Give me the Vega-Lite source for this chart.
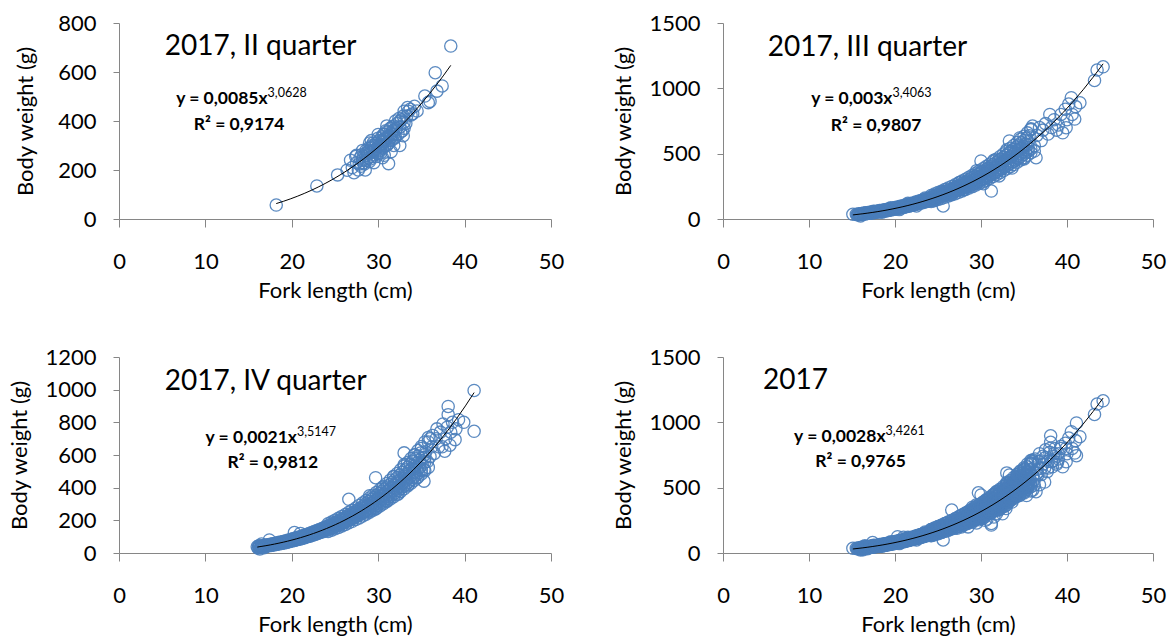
{
"$schema": "https://vega.github.io/schema/vega-lite/v6.json",
"background": "white",
"padding": {"left": 8, "top": 12, "right": 5, "bottom": 1},
"bounds": "flush",
"columns": 2,
"spacing": {"row": 138, "column": 172},
"config": {
  "view": {"stroke": null},
  "font": "Lato",
  "axis": {"grid": false, "domainColor": "#868686", "domainWidth": 1, "tickColor": "#868686", "tickWidth": 1, "labelColor": "#000000", "titleColor": "#000000", "labelFont": "Lato", "titleFont": "Lato", "labelFontSize": 22, "titleFontSize": 22, "titleFontWeight": "normal", "labelOverlap": false},
  "axisX": {"tickSize": 8, "labelPadding": 24, "titlePadding": 8, "labelFlush": false, "tickCount": 10},
  "axisY": {"tickSize": 6, "labelPadding": 17, "titlePadding": 15, "format": "d", "labelOverlap": false, "tickCount": 10}
},
"datasets": {
"notes": [
{"panel": "II", "title": "2017, II quarter", "eq": "y = 0,0085x", "exp": "3,0628", "r2": "R² = 0,9174"},
{"panel": "III", "title": "2017, III quarter", "eq": "y = 0,003x", "exp": "3,4063", "r2": "R² = 0,9807"},
{"panel": "IV", "title": "2017, IV quarter", "eq": "y = 0,0021x", "exp": "3,5147", "r2": "R² = 0,9812"},
{"panel": "all", "title": "2017", "eq": "y = 0,0028x", "exp": "3,4261", "r2": "R² = 0,9765"}
],
"fish": [
{"quarter":"II","length":18.2,"weight":57},{"quarter":"II","length":22.9,"weight":135},{"quarter":"II","length":25.3,"weight":180},{"quarter":"II","length":26.4,"weight":199},{"quarter":"II","length":26.8,"weight":240},{"quarter":"II","length":27.0,"weight":210},{"quarter":"II","length":27.2,"weight":189},{"quarter":"II","length":27.5,"weight":230},{"quarter":"II","length":27.7,"weight":200},{"quarter":"II","length":27.9,"weight":250},{"quarter":"II","length":28.0,"weight":215},{"quarter":"II","length":28.2,"weight":240},{"quarter":"II","length":28.4,"weight":225},{"quarter":"II","length":28.5,"weight":265},{"quarter":"II","length":28.6,"weight":240},{"quarter":"II","length":28.8,"weight":275},{"quarter":"II","length":28.9,"weight":250},{"quarter":"II","length":29.0,"weight":235},{"quarter":"II","length":29.1,"weight":270},{"quarter":"II","length":29.2,"weight":290},{"quarter":"II","length":29.3,"weight":255},{"quarter":"II","length":29.4,"weight":280},{"quarter":"II","length":29.5,"weight":300},{"quarter":"II","length":29.6,"weight":262},{"quarter":"II","length":29.7,"weight":285},{"quarter":"II","length":29.8,"weight":310},{"quarter":"II","length":29.9,"weight":270},{"quarter":"II","length":30.0,"weight":295},{"quarter":"II","length":30.1,"weight":320},{"quarter":"II","length":30.2,"weight":280},{"quarter":"II","length":30.3,"weight":305},{"quarter":"II","length":30.4,"weight":335},{"quarter":"II","length":30.5,"weight":290},{"quarter":"II","length":30.6,"weight":315},{"quarter":"II","length":30.7,"weight":345},{"quarter":"II","length":30.8,"weight":300},{"quarter":"II","length":30.9,"weight":325},{"quarter":"II","length":31.0,"weight":355},{"quarter":"II","length":31.1,"weight":305},{"quarter":"II","length":31.2,"weight":226},{"quarter":"II","length":31.3,"weight":340},{"quarter":"II","length":31.4,"weight":370},{"quarter":"II","length":31.5,"weight":320},{"quarter":"II","length":31.6,"weight":345},{"quarter":"II","length":31.8,"weight":380},{"quarter":"II","length":31.9,"weight":330},{"quarter":"II","length":32.0,"weight":360},{"quarter":"II","length":32.2,"weight":390},{"quarter":"II","length":32.3,"weight":345},{"quarter":"II","length":32.5,"weight":375},{"quarter":"II","length":32.7,"weight":405},{"quarter":"II","length":32.8,"weight":360},{"quarter":"II","length":33.0,"weight":395},{"quarter":"II","length":33.3,"weight":420},{"quarter":"II","length":33.5,"weight":440},{"quarter":"II","length":33.7,"weight":448},{"quarter":"II","length":34.0,"weight":430},{"quarter":"II","length":34.5,"weight":441},{"quarter":"II","length":35.4,"weight":502},{"quarter":"II","length":35.8,"weight":475},{"quarter":"II","length":36.0,"weight":480},{"quarter":"II","length":36.6,"weight":597},{"quarter":"II","length":36.8,"weight":522},{"quarter":"II","length":37.4,"weight":543},{"quarter":"II","length":38.4,"weight":706},{"quarter":"II","length":28.3,"weight":255},{"quarter":"II","length":29.0,"weight":280},{"quarter":"II","length":29.5,"weight":275},{"quarter":"II","length":30.0,"weight":265},{"quarter":"II","length":30.5,"weight":320},{"quarter":"II","length":31.0,"weight":300},{"quarter":"II","length":31.5,"weight":350},{"quarter":"II","length":32.0,"weight":335},{"quarter":"II","length":32.5,"weight":400},{"quarter":"II","length":33.0,"weight":370},{"quarter":"II","length":28.7,"weight":260},{"quarter":"II","length":29.3,"weight":300},{"quarter":"II","length":30.2,"weight":300},{"quarter":"II","length":30.8,"weight":330},{"quarter":"II","length":31.7,"weight":360},
{"quarter":"II","length":28.1,"weight":262},{"quarter":"II","length":28.3,"weight":230},{"quarter":"II","length":28.6,"weight":280},{"quarter":"II","length":28.9,"weight":290},{"quarter":"II","length":29.1,"weight":245},{"quarter":"II","length":29.4,"weight":310},{"quarter":"II","length":29.6,"weight":295},{"quarter":"II","length":29.8,"weight":255},{"quarter":"II","length":30.0,"weight":330},{"quarter":"II","length":30.1,"weight":285},{"quarter":"II","length":30.3,"weight":270},{"quarter":"II","length":30.4,"weight":300},{"quarter":"II","length":30.6,"weight":345},{"quarter":"II","length":30.7,"weight":295},{"quarter":"II","length":30.9,"weight":360},{"quarter":"II","length":31.1,"weight":335},{"quarter":"II","length":31.2,"weight":310},{"quarter":"II","length":31.4,"weight":330},{"quarter":"II","length":31.6,"weight":375},{"quarter":"II","length":31.8,"weight":345},{"quarter":"II","length":32.1,"weight":370},{"quarter":"II","length":32.4,"weight":410},{"quarter":"II","length":32.6,"weight":355},{"quarter":"II","length":32.9,"weight":420},{"quarter":"II","length":33.2,"weight":390},{"quarter":"II","length":33.4,"weight":455},{"quarter":"II","length":33.8,"weight":425},{"quarter":"II","length":34.2,"weight":460},{"quarter":"II","length":27.4,"weight":255},{"quarter":"II","length":27.8,"weight":225},
{"quarter":"II","length":28.5,"weight":200},{"quarter":"II","length":29.0,"weight":310},{"quarter":"II","length":29.5,"weight":230},{"quarter":"II","length":30.0,"weight":345},{"quarter":"II","length":30.5,"weight":250},{"quarter":"II","length":31.0,"weight":380},{"quarter":"II","length":31.5,"weight":275},{"quarter":"II","length":32.0,"weight":400},{"quarter":"II","length":32.5,"weight":300},{"quarter":"II","length":33.0,"weight":440},{"quarter":"II","length":29.2,"weight":320},{"quarter":"II","length":30.7,"weight":260},{"quarter":"II","length":31.8,"weight":300},{"quarter":"II","length":32.9,"weight":340},{"quarter":"II","length":27.5,"weight":260},{"quarter":"II","length":28.2,"weight":280},
{"quarter":"III","length":15.5,"weight":37},{"quarter":"III","length":15.8,"weight":39},{"quarter":"III","length":16.1,"weight":42},{"quarter":"III","length":16.4,"weight":45},{"quarter":"III","length":16.7,"weight":48},{"quarter":"III","length":17.0,"weight":51},{"quarter":"III","length":17.3,"weight":54},{"quarter":"III","length":17.6,"weight":57},{"quarter":"III","length":17.9,"weight":60},{"quarter":"III","length":18.2,"weight":64},{"quarter":"III","length":18.5,"weight":67},{"quarter":"III","length":18.8,"weight":71},{"quarter":"III","length":19.1,"weight":75},{"quarter":"III","length":19.4,"weight":79},{"quarter":"III","length":19.7,"weight":83},{"quarter":"III","length":20.0,"weight":87},{"quarter":"III","length":20.3,"weight":92},{"quarter":"III","length":20.6,"weight":97},{"quarter":"III","length":20.9,"weight":102},{"quarter":"III","length":21.2,"weight":107},{"quarter":"III","length":21.5,"weight":112},{"quarter":"III","length":21.8,"weight":118},{"quarter":"III","length":22.1,"weight":123},{"quarter":"III","length":22.4,"weight":129},{"quarter":"III","length":22.7,"weight":135},{"quarter":"III","length":23.0,"weight":141},{"quarter":"III","length":23.3,"weight":148},{"quarter":"III","length":23.6,"weight":154},{"quarter":"III","length":23.9,"weight":161},{"quarter":"III","length":24.2,"weight":168},{"quarter":"III","length":24.5,"weight":175},{"quarter":"III","length":24.8,"weight":183},{"quarter":"III","length":25.1,"weight":191},{"quarter":"III","length":25.4,"weight":199},{"quarter":"III","length":25.7,"weight":207},{"quarter":"III","length":26.0,"weight":215},{"quarter":"III","length":26.3,"weight":224},{"quarter":"III","length":26.6,"weight":232},{"quarter":"III","length":26.9,"weight":241},{"quarter":"III","length":27.2,"weight":251},{"quarter":"III","length":27.5,"weight":260},{"quarter":"III","length":27.8,"weight":270},{"quarter":"III","length":28.1,"weight":280},{"quarter":"III","length":28.4,"weight":290},
{"quarter":"III","length":15.6,"weight":32},{"quarter":"III","length":15.9,"weight":35},{"quarter":"III","length":16.2,"weight":37},{"quarter":"III","length":16.5,"weight":39},{"quarter":"III","length":16.8,"weight":42},{"quarter":"III","length":17.1,"weight":45},{"quarter":"III","length":17.4,"weight":47},{"quarter":"III","length":17.7,"weight":50},{"quarter":"III","length":18.0,"weight":53},{"quarter":"III","length":18.3,"weight":56},{"quarter":"III","length":18.6,"weight":59},{"quarter":"III","length":18.9,"weight":62},{"quarter":"III","length":19.2,"weight":65},{"quarter":"III","length":19.5,"weight":69},{"quarter":"III","length":19.8,"weight":73},{"quarter":"III","length":20.1,"weight":77},{"quarter":"III","length":20.4,"weight":81},{"quarter":"III","length":20.7,"weight":85},{"quarter":"III","length":21.0,"weight":89},{"quarter":"III","length":21.3,"weight":94},{"quarter":"III","length":21.6,"weight":98},{"quarter":"III","length":21.9,"weight":103},{"quarter":"III","length":22.2,"weight":107},{"quarter":"III","length":22.5,"weight":113},{"quarter":"III","length":22.8,"weight":118},{"quarter":"III","length":23.1,"weight":123},{"quarter":"III","length":23.4,"weight":129},{"quarter":"III","length":23.7,"weight":134},{"quarter":"III","length":24.0,"weight":140},{"quarter":"III","length":24.3,"weight":147},{"quarter":"III","length":24.6,"weight":153},{"quarter":"III","length":24.9,"weight":160},{"quarter":"III","length":25.2,"weight":166},{"quarter":"III","length":25.5,"weight":173},{"quarter":"III","length":25.8,"weight":180},{"quarter":"III","length":26.1,"weight":187},{"quarter":"III","length":26.4,"weight":194},{"quarter":"III","length":26.7,"weight":202},{"quarter":"III","length":27.0,"weight":210},{"quarter":"III","length":27.3,"weight":218},{"quarter":"III","length":27.6,"weight":226},{"quarter":"III","length":27.9,"weight":234},{"quarter":"III","length":28.2,"weight":243},
{"quarter":"III","length":15.8,"weight":36},{"quarter":"III","length":16.4,"weight":42},{"quarter":"III","length":17.0,"weight":46},{"quarter":"III","length":17.6,"weight":53},{"quarter":"III","length":18.2,"weight":60},{"quarter":"III","length":18.8,"weight":65},{"quarter":"III","length":19.4,"weight":74},{"quarter":"III","length":20.0,"weight":80},{"quarter":"III","length":20.6,"weight":91},{"quarter":"III","length":21.2,"weight":98},{"quarter":"III","length":21.8,"weight":110},{"quarter":"III","length":22.4,"weight":118},{"quarter":"III","length":23.0,"weight":133},{"quarter":"III","length":23.6,"weight":141},{"quarter":"III","length":24.2,"weight":157},{"quarter":"III","length":24.8,"weight":167},{"quarter":"III","length":25.4,"weight":186},{"quarter":"III","length":26.0,"weight":197},{"quarter":"III","length":26.6,"weight":218},{"quarter":"III","length":27.2,"weight":229},{"quarter":"III","length":27.8,"weight":253},{"quarter":"III","length":28.4,"weight":266},
{"quarter":"III","length":17.5,"weight":60},{"quarter":"III","length":18.5,"weight":52},{"quarter":"III","length":19.5,"weight":85},{"quarter":"III","length":20.5,"weight":72},{"quarter":"III","length":21.5,"weight":120},{"quarter":"III","length":22.5,"weight":100},{"quarter":"III","length":23.5,"weight":160},{"quarter":"III","length":24.5,"weight":140},{"quarter":"III","length":25.5,"weight":210},{"quarter":"III","length":26.5,"weight":185},{"quarter":"III","length":27.5,"weight":280},{"quarter":"III","length":28.0,"weight":225},{"quarter":"III","length":25.6,"weight":100},{"quarter":"III","length":15.1,"weight":36},{"quarter":"III","length":16.0,"weight":24},
{"quarter":"III","length":28.7,"weight":306},{"quarter":"III","length":29.0,"weight":317},{"quarter":"III","length":29.3,"weight":328},{"quarter":"III","length":29.6,"weight":340},{"quarter":"III","length":29.9,"weight":352},{"quarter":"III","length":30.2,"weight":364},{"quarter":"III","length":30.5,"weight":376},{"quarter":"III","length":30.8,"weight":388},{"quarter":"III","length":31.1,"weight":402},{"quarter":"III","length":31.4,"weight":416},{"quarter":"III","length":31.7,"weight":429},{"quarter":"III","length":32.0,"weight":443},{"quarter":"III","length":32.3,"weight":458},{"quarter":"III","length":32.6,"weight":472},{"quarter":"III","length":32.9,"weight":487},{"quarter":"III","length":33.2,"weight":503},{"quarter":"III","length":33.5,"weight":518},{"quarter":"III","length":33.8,"weight":534},{"quarter":"III","length":34.1,"weight":550},{"quarter":"III","length":34.4,"weight":567},{"quarter":"III","length":34.7,"weight":584},{"quarter":"III","length":35.0,"weight":601},{"quarter":"III","length":35.3,"weight":619},{"quarter":"III","length":35.6,"weight":637},
{"quarter":"III","length":28.6,"weight":250},{"quarter":"III","length":28.9,"weight":259},{"quarter":"III","length":29.2,"weight":268},{"quarter":"III","length":29.5,"weight":278},{"quarter":"III","length":29.8,"weight":288},{"quarter":"III","length":30.1,"weight":298},{"quarter":"III","length":30.4,"weight":308},{"quarter":"III","length":30.7,"weight":318},{"quarter":"III","length":31.0,"weight":329},{"quarter":"III","length":31.3,"weight":340},{"quarter":"III","length":31.6,"weight":351},{"quarter":"III","length":31.9,"weight":363},{"quarter":"III","length":32.2,"weight":375},{"quarter":"III","length":32.5,"weight":387},{"quarter":"III","length":32.8,"weight":399},{"quarter":"III","length":33.1,"weight":412},{"quarter":"III","length":33.4,"weight":425},{"quarter":"III","length":33.7,"weight":437},{"quarter":"III","length":34.0,"weight":450},{"quarter":"III","length":34.3,"weight":464},{"quarter":"III","length":34.6,"weight":478},{"quarter":"III","length":34.9,"weight":492},{"quarter":"III","length":35.2,"weight":507},{"quarter":"III","length":35.5,"weight":521},{"quarter":"III","length":35.8,"weight":536},
{"quarter":"III","length":28.8,"weight":281},{"quarter":"III","length":29.4,"weight":304},{"quarter":"III","length":30.0,"weight":325},{"quarter":"III","length":30.6,"weight":344},{"quarter":"III","length":31.2,"weight":372},{"quarter":"III","length":31.8,"weight":392},{"quarter":"III","length":32.4,"weight":424},{"quarter":"III","length":33.0,"weight":445},{"quarter":"III","length":33.6,"weight":478},{"quarter":"III","length":34.2,"weight":500},{"quarter":"III","length":34.8,"weight":540},{"quarter":"III","length":35.4,"weight":565},
{"quarter":"III","length":29.5,"weight":370},{"quarter":"III","length":30.3,"weight":270},{"quarter":"III","length":31.5,"weight":450},{"quarter":"III","length":32.1,"weight":330},{"quarter":"III","length":33.0,"weight":530},{"quarter":"III","length":33.6,"weight":390},{"quarter":"III","length":34.5,"weight":620},{"quarter":"III","length":35.0,"weight":460},{"quarter":"III","length":35.8,"weight":690},{"quarter":"III","length":36.2,"weight":520},
{"quarter":"III","length":30.0,"weight":444},{"quarter":"III","length":31.2,"weight":214},{"quarter":"III","length":33.3,"weight":597},{"quarter":"III","length":36.4,"weight":469},
{"quarter":"III","length":36.0,"weight":711},{"quarter":"III","length":36.2,"weight":560},{"quarter":"III","length":36.5,"weight":640},{"quarter":"III","length":36.8,"weight":700},{"quarter":"III","length":37.0,"weight":600},{"quarter":"III","length":37.2,"weight":680},{"quarter":"III","length":37.5,"weight":730},{"quarter":"III","length":37.8,"weight":650},{"quarter":"III","length":38.0,"weight":800},{"quarter":"III","length":38.2,"weight":700},{"quarter":"III","length":38.5,"weight":760},{"quarter":"III","length":38.8,"weight":680},{"quarter":"III","length":39.0,"weight":720},{"quarter":"III","length":39.3,"weight":800},{"quarter":"III","length":39.5,"weight":660},{"quarter":"III","length":39.8,"weight":840},{"quarter":"III","length":39.9,"weight":699},{"quarter":"III","length":40.0,"weight":760},{"quarter":"III","length":40.2,"weight":880},{"quarter":"III","length":40.5,"weight":928},{"quarter":"III","length":40.6,"weight":800},{"quarter":"III","length":40.9,"weight":765},{"quarter":"III","length":41.0,"weight":860},{"quarter":"III","length":41.5,"weight":890},{"quarter":"III","length":43.2,"weight":1060},{"quarter":"III","length":43.5,"weight":1140},{"quarter":"III","length":44.2,"weight":1165},
{"quarter":"III","length":15.7,"weight":37},{"quarter":"III","length":15.7,"weight":33},{"quarter":"III","length":16.0,"weight":39},{"quarter":"III","length":16.0,"weight":36},{"quarter":"III","length":16.3,"weight":42},{"quarter":"III","length":16.3,"weight":38},{"quarter":"III","length":16.6,"weight":45},{"quarter":"III","length":16.6,"weight":41},{"quarter":"III","length":16.9,"weight":47},{"quarter":"III","length":16.9,"weight":44},{"quarter":"III","length":17.2,"weight":50},{"quarter":"III","length":17.2,"weight":46},{"quarter":"III","length":17.5,"weight":53},{"quarter":"III","length":17.5,"weight":49},{"quarter":"III","length":17.8,"weight":57},{"quarter":"III","length":17.8,"weight":52},{"quarter":"III","length":18.1,"weight":60},{"quarter":"III","length":18.1,"weight":55},{"quarter":"III","length":18.4,"weight":63},{"quarter":"III","length":18.4,"weight":58},{"quarter":"III","length":18.7,"weight":67},{"quarter":"III","length":18.7,"weight":61},{"quarter":"III","length":19.0,"weight":70},{"quarter":"III","length":19.0,"weight":64},{"quarter":"III","length":19.3,"weight":74},{"quarter":"III","length":19.3,"weight":68},{"quarter":"III","length":19.6,"weight":78},{"quarter":"III","length":19.6,"weight":72},{"quarter":"III","length":19.9,"weight":82},{"quarter":"III","length":19.9,"weight":76},{"quarter":"III","length":20.2,"weight":86},{"quarter":"III","length":20.2,"weight":80},{"quarter":"III","length":20.5,"weight":91},{"quarter":"III","length":20.5,"weight":84},{"quarter":"III","length":20.8,"weight":96},{"quarter":"III","length":20.8,"weight":88},{"quarter":"III","length":21.1,"weight":100},{"quarter":"III","length":21.1,"weight":93},{"quarter":"III","length":21.4,"weight":105},{"quarter":"III","length":21.4,"weight":97},{"quarter":"III","length":21.7,"weight":110},{"quarter":"III","length":21.7,"weight":102},{"quarter":"III","length":22.0,"weight":115},{"quarter":"III","length":22.0,"weight":106},{"quarter":"III","length":22.3,"weight":121},{"quarter":"III","length":22.3,"weight":112},{"quarter":"III","length":22.6,"weight":127},{"quarter":"III","length":22.6,"weight":117},{"quarter":"III","length":22.9,"weight":133},{"quarter":"III","length":22.9,"weight":123},{"quarter":"III","length":23.2,"weight":139},{"quarter":"III","length":23.2,"weight":128},{"quarter":"III","length":23.5,"weight":145},{"quarter":"III","length":23.5,"weight":134},{"quarter":"III","length":23.8,"weight":151},{"quarter":"III","length":23.8,"weight":140},{"quarter":"III","length":24.1,"weight":158},{"quarter":"III","length":24.1,"weight":146},{"quarter":"III","length":24.4,"weight":165},{"quarter":"III","length":24.4,"weight":152},{"quarter":"III","length":24.7,"weight":172},{"quarter":"III","length":24.7,"weight":159},{"quarter":"III","length":25.0,"weight":179},{"quarter":"III","length":25.0,"weight":165},{"quarter":"III","length":25.3,"weight":187},{"quarter":"III","length":25.3,"weight":172},{"quarter":"III","length":25.6,"weight":195},{"quarter":"III","length":25.6,"weight":180},{"quarter":"III","length":25.9,"weight":202},{"quarter":"III","length":25.9,"weight":187},{"quarter":"III","length":26.2,"weight":211},{"quarter":"III","length":26.2,"weight":194},{"quarter":"III","length":26.5,"weight":219},{"quarter":"III","length":26.5,"weight":202},{"quarter":"III","length":26.8,"weight":227},{"quarter":"III","length":26.8,"weight":210},{"quarter":"III","length":27.1,"weight":236},{"quarter":"III","length":27.1,"weight":218},{"quarter":"III","length":27.4,"weight":245},{"quarter":"III","length":27.4,"weight":226},{"quarter":"III","length":27.7,"weight":254},{"quarter":"III","length":27.7,"weight":235},{"quarter":"III","length":28.0,"weight":264},{"quarter":"III","length":28.0,"weight":243},{"quarter":"III","length":28.3,"weight":274},{"quarter":"III","length":28.3,"weight":252},{"quarter":"III","length":28.6,"weight":283},{"quarter":"III","length":28.6,"weight":261},{"quarter":"III","length":28.9,"weight":293},{"quarter":"III","length":28.9,"weight":271},{"quarter":"III","length":29.2,"weight":303},{"quarter":"III","length":29.2,"weight":280},{"quarter":"III","length":29.5,"weight":315},{"quarter":"III","length":29.5,"weight":290},{"quarter":"III","length":29.8,"weight":326},{"quarter":"III","length":29.8,"weight":300},{"quarter":"III","length":30.1,"weight":337},{"quarter":"III","length":30.1,"weight":311},{"quarter":"III","length":30.4,"weight":348},{"quarter":"III","length":30.4,"weight":321},{"quarter":"III","length":30.7,"weight":360},{"quarter":"III","length":30.7,"weight":332},{"quarter":"III","length":31.0,"weight":372},{"quarter":"III","length":31.0,"weight":343},{"quarter":"III","length":31.3,"weight":385},{"quarter":"III","length":31.3,"weight":355},{"quarter":"III","length":31.6,"weight":398},{"quarter":"III","length":31.6,"weight":367},{"quarter":"III","length":31.9,"weight":411},{"quarter":"III","length":31.9,"weight":379},{"quarter":"III","length":32.2,"weight":424},{"quarter":"III","length":32.2,"weight":391},{"quarter":"III","length":32.5,"weight":438},{"quarter":"III","length":32.5,"weight":404},{"quarter":"III","length":32.8,"weight":451},{"quarter":"III","length":32.8,"weight":416},{"quarter":"III","length":33.1,"weight":466},{"quarter":"III","length":33.1,"weight":429},{"quarter":"III","length":33.4,"weight":480},{"quarter":"III","length":33.4,"weight":443},{"quarter":"III","length":33.7,"weight":495},{"quarter":"III","length":33.7,"weight":457},{"quarter":"III","length":34.0,"weight":510},{"quarter":"III","length":34.0,"weight":470},{"quarter":"III","length":34.3,"weight":525},{"quarter":"III","length":34.3,"weight":485},{"quarter":"III","length":34.6,"weight":541},{"quarter":"III","length":34.6,"weight":499},{"quarter":"III","length":34.9,"weight":557},{"quarter":"III","length":34.9,"weight":514},{"quarter":"III","length":35.2,"weight":574},{"quarter":"III","length":35.2,"weight":529},{"quarter":"III","length":35.5,"weight":591},{"quarter":"III","length":35.5,"weight":545},
{"quarter":"III","length":24.2,"weight":180},{"quarter":"III","length":24.2,"weight":134},{"quarter":"III","length":24.6,"weight":191},{"quarter":"III","length":24.6,"weight":142},{"quarter":"III","length":25.0,"weight":202},{"quarter":"III","length":25.0,"weight":150},{"quarter":"III","length":25.4,"weight":213},{"quarter":"III","length":25.4,"weight":158},{"quarter":"III","length":25.8,"weight":225},{"quarter":"III","length":25.8,"weight":167},{"quarter":"III","length":26.2,"weight":237},{"quarter":"III","length":26.2,"weight":176},{"quarter":"III","length":26.6,"weight":249},{"quarter":"III","length":26.6,"weight":185},{"quarter":"III","length":27.0,"weight":262},{"quarter":"III","length":27.0,"weight":194},{"quarter":"III","length":27.4,"weight":276},{"quarter":"III","length":27.4,"weight":205},{"quarter":"III","length":27.8,"weight":290},{"quarter":"III","length":27.8,"weight":215},{"quarter":"III","length":28.2,"weight":304},{"quarter":"III","length":28.2,"weight":226},{"quarter":"III","length":28.6,"weight":319},{"quarter":"III","length":28.6,"weight":237},{"quarter":"III","length":29.0,"weight":334},{"quarter":"III","length":29.0,"weight":248},{"quarter":"III","length":29.4,"weight":350},{"quarter":"III","length":29.4,"weight":260},{"quarter":"III","length":29.8,"weight":367},{"quarter":"III","length":29.8,"weight":272},{"quarter":"III","length":30.2,"weight":384},{"quarter":"III","length":30.2,"weight":284},{"quarter":"III","length":30.6,"weight":401},{"quarter":"III","length":30.6,"weight":297},{"quarter":"III","length":31.0,"weight":419},{"quarter":"III","length":31.0,"weight":310},{"quarter":"III","length":31.4,"weight":438},{"quarter":"III","length":31.4,"weight":325},{"quarter":"III","length":31.8,"weight":458},{"quarter":"III","length":31.8,"weight":339},{"quarter":"III","length":32.2,"weight":477},{"quarter":"III","length":32.2,"weight":354},{"quarter":"III","length":32.6,"weight":498},{"quarter":"III","length":32.6,"weight":369},{"quarter":"III","length":33.0,"weight":519},{"quarter":"III","length":33.0,"weight":384},{"quarter":"III","length":33.4,"weight":541},{"quarter":"III","length":33.4,"weight":401},{"quarter":"III","length":33.8,"weight":563},{"quarter":"III","length":33.8,"weight":417},{"quarter":"III","length":34.2,"weight":586},{"quarter":"III","length":34.2,"weight":434},{"quarter":"III","length":34.6,"weight":610},{"quarter":"III","length":34.6,"weight":452},{"quarter":"III","length":35.0,"weight":633},{"quarter":"III","length":35.0,"weight":470},{"quarter":"III","length":35.4,"weight":659},{"quarter":"III","length":35.4,"weight":488},{"quarter":"III","length":35.8,"weight":684},{"quarter":"III","length":35.8,"weight":507},
{"quarter":"IV","length":16.1,"weight":30},{"quarter":"IV","length":16.2,"weight":45},{"quarter":"IV","length":16.0,"weight":38},{"quarter":"IV","length":16.3,"weight":25},{"quarter":"IV","length":16.5,"weight":55},{"quarter":"IV","length":16.8,"weight":32},{"quarter":"IV","length":17.4,"weight":80},{"quarter":"IV","length":20.3,"weight":125},{"quarter":"IV","length":21.0,"weight":120},
{"quarter":"IV","length":16.3,"weight":41},{"quarter":"IV","length":16.6,"weight":44},{"quarter":"IV","length":16.9,"weight":47},{"quarter":"IV","length":17.2,"weight":50},{"quarter":"IV","length":17.5,"weight":53},{"quarter":"IV","length":17.8,"weight":56},{"quarter":"IV","length":18.1,"weight":60},{"quarter":"IV","length":18.4,"weight":64},{"quarter":"IV","length":18.7,"weight":67},{"quarter":"IV","length":19.0,"weight":71},{"quarter":"IV","length":19.3,"weight":75},{"quarter":"IV","length":19.6,"weight":79},{"quarter":"IV","length":19.9,"weight":84},{"quarter":"IV","length":20.2,"weight":88},{"quarter":"IV","length":20.5,"weight":93},{"quarter":"IV","length":20.8,"weight":98},{"quarter":"IV","length":21.1,"weight":103},{"quarter":"IV","length":21.4,"weight":108},{"quarter":"IV","length":21.7,"weight":113},{"quarter":"IV","length":22.0,"weight":119},{"quarter":"IV","length":22.3,"weight":125},{"quarter":"IV","length":22.6,"weight":131},{"quarter":"IV","length":22.9,"weight":137},{"quarter":"IV","length":23.2,"weight":143},{"quarter":"IV","length":23.5,"weight":150},{"quarter":"IV","length":23.8,"weight":157},{"quarter":"IV","length":24.1,"weight":164},{"quarter":"IV","length":24.4,"weight":171},{"quarter":"IV","length":24.7,"weight":179},{"quarter":"IV","length":25.0,"weight":186},{"quarter":"IV","length":25.3,"weight":194},{"quarter":"IV","length":25.6,"weight":203},{"quarter":"IV","length":25.9,"weight":211},{"quarter":"IV","length":26.2,"weight":220},{"quarter":"IV","length":26.5,"weight":229},{"quarter":"IV","length":26.8,"weight":238},{"quarter":"IV","length":27.1,"weight":247},{"quarter":"IV","length":27.4,"weight":257},{"quarter":"IV","length":27.7,"weight":267},{"quarter":"IV","length":28.0,"weight":277},{"quarter":"IV","length":28.3,"weight":288},
{"quarter":"IV","length":16.4,"weight":36},{"quarter":"IV","length":16.7,"weight":39},{"quarter":"IV","length":17.0,"weight":41},{"quarter":"IV","length":17.3,"weight":44},{"quarter":"IV","length":17.6,"weight":46},{"quarter":"IV","length":17.9,"weight":49},{"quarter":"IV","length":18.2,"weight":52},{"quarter":"IV","length":18.5,"weight":55},{"quarter":"IV","length":18.8,"weight":58},{"quarter":"IV","length":19.1,"weight":62},{"quarter":"IV","length":19.4,"weight":65},{"quarter":"IV","length":19.7,"weight":69},{"quarter":"IV","length":20.0,"weight":73},{"quarter":"IV","length":20.3,"weight":77},{"quarter":"IV","length":20.6,"weight":81},{"quarter":"IV","length":20.9,"weight":85},{"quarter":"IV","length":21.2,"weight":89},{"quarter":"IV","length":21.5,"weight":94},{"quarter":"IV","length":21.8,"weight":99},{"quarter":"IV","length":22.1,"weight":103},{"quarter":"IV","length":22.4,"weight":109},{"quarter":"IV","length":22.7,"weight":114},{"quarter":"IV","length":23.0,"weight":119},{"quarter":"IV","length":23.3,"weight":125},{"quarter":"IV","length":23.6,"weight":131},{"quarter":"IV","length":23.9,"weight":136},{"quarter":"IV","length":24.2,"weight":143},{"quarter":"IV","length":24.5,"weight":149},{"quarter":"IV","length":24.8,"weight":156},{"quarter":"IV","length":25.1,"weight":162},{"quarter":"IV","length":25.4,"weight":169},{"quarter":"IV","length":25.7,"weight":176},{"quarter":"IV","length":26.0,"weight":184},{"quarter":"IV","length":26.3,"weight":191},{"quarter":"IV","length":26.6,"weight":199},{"quarter":"IV","length":26.9,"weight":207},{"quarter":"IV","length":27.2,"weight":215},{"quarter":"IV","length":27.5,"weight":224},{"quarter":"IV","length":27.8,"weight":233},{"quarter":"IV","length":28.1,"weight":241},{"quarter":"IV","length":28.4,"weight":251},
{"quarter":"IV","length":16.5,"weight":40},{"quarter":"IV","length":17.1,"weight":45},{"quarter":"IV","length":17.7,"weight":51},{"quarter":"IV","length":18.3,"weight":58},{"quarter":"IV","length":18.9,"weight":64},{"quarter":"IV","length":19.5,"weight":72},{"quarter":"IV","length":20.1,"weight":80},{"quarter":"IV","length":20.7,"weight":88},{"quarter":"IV","length":21.3,"weight":99},{"quarter":"IV","length":21.9,"weight":107},{"quarter":"IV","length":22.5,"weight":120},{"quarter":"IV","length":23.1,"weight":129},{"quarter":"IV","length":23.7,"weight":144},{"quarter":"IV","length":24.3,"weight":155},{"quarter":"IV","length":24.9,"weight":170},{"quarter":"IV","length":25.5,"weight":182},{"quarter":"IV","length":26.1,"weight":202},{"quarter":"IV","length":26.7,"weight":215},{"quarter":"IV","length":27.3,"weight":237},{"quarter":"IV","length":27.9,"weight":250},
{"quarter":"IV","length":28.6,"weight":305},{"quarter":"IV","length":28.9,"weight":316},{"quarter":"IV","length":29.2,"weight":327},{"quarter":"IV","length":29.5,"weight":340},{"quarter":"IV","length":29.8,"weight":352},{"quarter":"IV","length":30.1,"weight":364},{"quarter":"IV","length":30.4,"weight":377},{"quarter":"IV","length":30.7,"weight":391},{"quarter":"IV","length":31.0,"weight":404},{"quarter":"IV","length":31.3,"weight":418},{"quarter":"IV","length":31.6,"weight":432},{"quarter":"IV","length":31.9,"weight":447},{"quarter":"IV","length":32.2,"weight":462},{"quarter":"IV","length":32.5,"weight":477},{"quarter":"IV","length":32.8,"weight":493},{"quarter":"IV","length":33.1,"weight":509},{"quarter":"IV","length":33.4,"weight":525},{"quarter":"IV","length":33.7,"weight":542},{"quarter":"IV","length":34.0,"weight":559},{"quarter":"IV","length":34.3,"weight":577},{"quarter":"IV","length":34.6,"weight":594},{"quarter":"IV","length":34.9,"weight":612},
{"quarter":"IV","length":28.7,"weight":252},{"quarter":"IV","length":29.0,"weight":261},{"quarter":"IV","length":29.3,"weight":271},{"quarter":"IV","length":29.6,"weight":281},{"quarter":"IV","length":29.9,"weight":291},{"quarter":"IV","length":30.2,"weight":301},{"quarter":"IV","length":30.5,"weight":312},{"quarter":"IV","length":30.8,"weight":323},{"quarter":"IV","length":31.1,"weight":334},{"quarter":"IV","length":31.4,"weight":346},{"quarter":"IV","length":31.7,"weight":357},{"quarter":"IV","length":32.0,"weight":369},{"quarter":"IV","length":32.3,"weight":382},{"quarter":"IV","length":32.6,"weight":395},{"quarter":"IV","length":32.9,"weight":407},{"quarter":"IV","length":33.2,"weight":421},{"quarter":"IV","length":33.5,"weight":434},{"quarter":"IV","length":33.8,"weight":448},{"quarter":"IV","length":34.1,"weight":462},{"quarter":"IV","length":34.4,"weight":477},{"quarter":"IV","length":34.7,"weight":491},{"quarter":"IV","length":35.0,"weight":506},
{"quarter":"IV","length":28.8,"weight":285},{"quarter":"IV","length":29.4,"weight":305},{"quarter":"IV","length":30.0,"weight":330},{"quarter":"IV","length":30.6,"weight":350},{"quarter":"IV","length":31.2,"weight":378},{"quarter":"IV","length":31.8,"weight":400},{"quarter":"IV","length":32.4,"weight":430},{"quarter":"IV","length":33.0,"weight":455},{"quarter":"IV","length":33.6,"weight":490},{"quarter":"IV","length":34.2,"weight":515},{"quarter":"IV","length":34.8,"weight":550},{"quarter":"IV","length":35.4,"weight":585},
{"quarter":"IV","length":29.0,"weight":350},{"quarter":"IV","length":29.7,"weight":270},{"quarter":"IV","length":30.5,"weight":400},{"quarter":"IV","length":31.0,"weight":320},{"quarter":"IV","length":31.8,"weight":470},{"quarter":"IV","length":32.3,"weight":360},{"quarter":"IV","length":33.0,"weight":540},{"quarter":"IV","length":33.5,"weight":420},{"quarter":"IV","length":34.2,"weight":600},{"quarter":"IV","length":34.5,"weight":460},{"quarter":"IV","length":35.0,"weight":640},{"quarter":"IV","length":35.3,"weight":510},
{"quarter":"IV","length":26.6,"weight":329},{"quarter":"IV","length":29.7,"weight":461},{"quarter":"IV","length":33.0,"weight":613},{"quarter":"IV","length":35.3,"weight":440},
{"quarter":"IV","length":35.5,"weight":620},{"quarter":"IV","length":35.7,"weight":560},{"quarter":"IV","length":35.8,"weight":680},{"quarter":"IV","length":36.0,"weight":700},{"quarter":"IV","length":36.0,"weight":590},{"quarter":"IV","length":36.2,"weight":650},{"quarter":"IV","length":36.3,"weight":720},{"quarter":"IV","length":36.5,"weight":610},{"quarter":"IV","length":36.7,"weight":700},{"quarter":"IV","length":36.8,"weight":760},{"quarter":"IV","length":37.0,"weight":650},{"quarter":"IV","length":37.2,"weight":740},{"quarter":"IV","length":37.4,"weight":650},{"quarter":"IV","length":37.5,"weight":790},{"quarter":"IV","length":37.7,"weight":623},{"quarter":"IV","length":37.8,"weight":700},{"quarter":"IV","length":38.0,"weight":770},{"quarter":"IV","length":38.1,"weight":897},{"quarter":"IV","length":38.1,"weight":847},{"quarter":"IV","length":38.3,"weight":660},{"quarter":"IV","length":38.4,"weight":740},{"quarter":"IV","length":38.6,"weight":800},{"quarter":"IV","length":38.9,"weight":694},{"quarter":"IV","length":39.0,"weight":760},{"quarter":"IV","length":39.3,"weight":816},{"quarter":"IV","length":39.9,"weight":800},{"quarter":"IV","length":41.1,"weight":995},{"quarter":"IV","length":41.1,"weight":745},
{"quarter":"IV","length":16.2,"weight":39},{"quarter":"IV","length":16.2,"weight":36},{"quarter":"IV","length":16.5,"weight":41},{"quarter":"IV","length":16.5,"weight":38},{"quarter":"IV","length":16.8,"weight":44},{"quarter":"IV","length":16.8,"weight":41},{"quarter":"IV","length":17.1,"weight":47},{"quarter":"IV","length":17.1,"weight":43},{"quarter":"IV","length":17.4,"weight":50},{"quarter":"IV","length":17.4,"weight":46},{"quarter":"IV","length":17.7,"weight":53},{"quarter":"IV","length":17.7,"weight":49},{"quarter":"IV","length":18.0,"weight":56},{"quarter":"IV","length":18.0,"weight":52},{"quarter":"IV","length":18.3,"weight":59},{"quarter":"IV","length":18.3,"weight":55},{"quarter":"IV","length":18.6,"weight":63},{"quarter":"IV","length":18.6,"weight":58},{"quarter":"IV","length":18.9,"weight":66},{"quarter":"IV","length":18.9,"weight":61},{"quarter":"IV","length":19.2,"weight":70},{"quarter":"IV","length":19.2,"weight":65},{"quarter":"IV","length":19.5,"weight":74},{"quarter":"IV","length":19.5,"weight":69},{"quarter":"IV","length":19.8,"weight":78},{"quarter":"IV","length":19.8,"weight":72},{"quarter":"IV","length":20.1,"weight":83},{"quarter":"IV","length":20.1,"weight":76},{"quarter":"IV","length":20.4,"weight":87},{"quarter":"IV","length":20.4,"weight":80},{"quarter":"IV","length":20.7,"weight":92},{"quarter":"IV","length":20.7,"weight":85},{"quarter":"IV","length":21.0,"weight":96},{"quarter":"IV","length":21.0,"weight":89},{"quarter":"IV","length":21.3,"weight":101},{"quarter":"IV","length":21.3,"weight":94},{"quarter":"IV","length":21.6,"weight":107},{"quarter":"IV","length":21.6,"weight":98},{"quarter":"IV","length":21.9,"weight":112},{"quarter":"IV","length":21.9,"weight":103},{"quarter":"IV","length":22.2,"weight":117},{"quarter":"IV","length":22.2,"weight":108},{"quarter":"IV","length":22.5,"weight":123},{"quarter":"IV","length":22.5,"weight":113},{"quarter":"IV","length":22.8,"weight":129},{"quarter":"IV","length":22.8,"weight":119},{"quarter":"IV","length":23.1,"weight":135},{"quarter":"IV","length":23.1,"weight":124},{"quarter":"IV","length":23.4,"weight":141},{"quarter":"IV","length":23.4,"weight":130},{"quarter":"IV","length":23.7,"weight":147},{"quarter":"IV","length":23.7,"weight":136},{"quarter":"IV","length":24.0,"weight":154},{"quarter":"IV","length":24.0,"weight":142},{"quarter":"IV","length":24.3,"weight":161},{"quarter":"IV","length":24.3,"weight":148},{"quarter":"IV","length":24.6,"weight":168},{"quarter":"IV","length":24.6,"weight":155},{"quarter":"IV","length":24.9,"weight":175},{"quarter":"IV","length":24.9,"weight":162},{"quarter":"IV","length":25.2,"weight":183},{"quarter":"IV","length":25.2,"weight":169},{"quarter":"IV","length":25.5,"weight":191},{"quarter":"IV","length":25.5,"weight":176},{"quarter":"IV","length":25.8,"weight":199},{"quarter":"IV","length":25.8,"weight":183},{"quarter":"IV","length":26.1,"weight":207},{"quarter":"IV","length":26.1,"weight":191},{"quarter":"IV","length":26.4,"weight":215},{"quarter":"IV","length":26.4,"weight":199},{"quarter":"IV","length":26.7,"weight":224},{"quarter":"IV","length":26.7,"weight":207},{"quarter":"IV","length":27.0,"weight":233},{"quarter":"IV","length":27.0,"weight":215},{"quarter":"IV","length":27.3,"weight":242},{"quarter":"IV","length":27.3,"weight":223},{"quarter":"IV","length":27.6,"weight":252},{"quarter":"IV","length":27.6,"weight":232},{"quarter":"IV","length":27.9,"weight":261},{"quarter":"IV","length":27.9,"weight":241},{"quarter":"IV","length":28.2,"weight":271},{"quarter":"IV","length":28.2,"weight":250},{"quarter":"IV","length":28.5,"weight":282},{"quarter":"IV","length":28.5,"weight":260},{"quarter":"IV","length":28.8,"weight":292},{"quarter":"IV","length":28.8,"weight":270},{"quarter":"IV","length":29.1,"weight":303},{"quarter":"IV","length":29.1,"weight":279},{"quarter":"IV","length":29.4,"weight":314},{"quarter":"IV","length":29.4,"weight":290},{"quarter":"IV","length":29.7,"weight":326},{"quarter":"IV","length":29.7,"weight":300},{"quarter":"IV","length":30.0,"weight":337},{"quarter":"IV","length":30.0,"weight":311},{"quarter":"IV","length":30.3,"weight":349},{"quarter":"IV","length":30.3,"weight":322},{"quarter":"IV","length":30.6,"weight":362},{"quarter":"IV","length":30.6,"weight":334},{"quarter":"IV","length":30.9,"weight":374},{"quarter":"IV","length":30.9,"weight":345},{"quarter":"IV","length":31.2,"weight":387},{"quarter":"IV","length":31.2,"weight":357},{"quarter":"IV","length":31.5,"weight":400},{"quarter":"IV","length":31.5,"weight":369},{"quarter":"IV","length":31.8,"weight":414},{"quarter":"IV","length":31.8,"weight":382},{"quarter":"IV","length":32.1,"weight":428},{"quarter":"IV","length":32.1,"weight":394},{"quarter":"IV","length":32.4,"weight":442},{"quarter":"IV","length":32.4,"weight":408},{"quarter":"IV","length":32.7,"weight":457},{"quarter":"IV","length":32.7,"weight":421},{"quarter":"IV","length":33.0,"weight":471},{"quarter":"IV","length":33.0,"weight":435},{"quarter":"IV","length":33.3,"weight":487},{"quarter":"IV","length":33.3,"weight":449},{"quarter":"IV","length":33.6,"weight":502},{"quarter":"IV","length":33.6,"weight":463},{"quarter":"IV","length":33.9,"weight":518},{"quarter":"IV","length":33.9,"weight":478},{"quarter":"IV","length":34.2,"weight":534},{"quarter":"IV","length":34.2,"weight":493},{"quarter":"IV","length":34.5,"weight":551},{"quarter":"IV","length":34.5,"weight":508},{"quarter":"IV","length":34.8,"weight":568},{"quarter":"IV","length":34.8,"weight":524},{"quarter":"IV","length":35.1,"weight":585},{"quarter":"IV","length":35.1,"weight":540},{"quarter":"IV","length":35.4,"weight":603},{"quarter":"IV","length":35.4,"weight":557},
{"quarter":"IV","length":24.2,"weight":179},{"quarter":"IV","length":24.2,"weight":132},{"quarter":"IV","length":24.6,"weight":189},{"quarter":"IV","length":24.6,"weight":140},{"quarter":"IV","length":25.0,"weight":200},{"quarter":"IV","length":25.0,"weight":148},{"quarter":"IV","length":25.4,"weight":212},{"quarter":"IV","length":25.4,"weight":157},{"quarter":"IV","length":25.8,"weight":224},{"quarter":"IV","length":25.8,"weight":166},{"quarter":"IV","length":26.2,"weight":236},{"quarter":"IV","length":26.2,"weight":175},{"quarter":"IV","length":26.6,"weight":249},{"quarter":"IV","length":26.6,"weight":185},{"quarter":"IV","length":27.0,"weight":262},{"quarter":"IV","length":27.0,"weight":194},{"quarter":"IV","length":27.4,"weight":276},{"quarter":"IV","length":27.4,"weight":205},{"quarter":"IV","length":27.8,"weight":291},{"quarter":"IV","length":27.8,"weight":215},{"quarter":"IV","length":28.2,"weight":306},{"quarter":"IV","length":28.2,"weight":227},{"quarter":"IV","length":28.6,"weight":321},{"quarter":"IV","length":28.6,"weight":238},{"quarter":"IV","length":29.0,"weight":337},{"quarter":"IV","length":29.0,"weight":250},{"quarter":"IV","length":29.4,"weight":354},{"quarter":"IV","length":29.4,"weight":262},{"quarter":"IV","length":29.8,"weight":371},{"quarter":"IV","length":29.8,"weight":275},{"quarter":"IV","length":30.2,"weight":389},{"quarter":"IV","length":30.2,"weight":288},{"quarter":"IV","length":30.6,"weight":407},{"quarter":"IV","length":30.6,"weight":302},{"quarter":"IV","length":31.0,"weight":426},{"quarter":"IV","length":31.0,"weight":316},{"quarter":"IV","length":31.4,"weight":446},{"quarter":"IV","length":31.4,"weight":331},{"quarter":"IV","length":31.8,"weight":466},{"quarter":"IV","length":31.8,"weight":345},{"quarter":"IV","length":32.2,"weight":487},{"quarter":"IV","length":32.2,"weight":361},{"quarter":"IV","length":32.6,"weight":509},{"quarter":"IV","length":32.6,"weight":377},{"quarter":"IV","length":33.0,"weight":531},{"quarter":"IV","length":33.0,"weight":393},{"quarter":"IV","length":33.4,"weight":554},{"quarter":"IV","length":33.4,"weight":411},{"quarter":"IV","length":33.8,"weight":578},{"quarter":"IV","length":33.8,"weight":428},{"quarter":"IV","length":34.2,"weight":602},{"quarter":"IV","length":34.2,"weight":446},{"quarter":"IV","length":34.6,"weight":627},{"quarter":"IV","length":34.6,"weight":465},{"quarter":"IV","length":35.0,"weight":652},{"quarter":"IV","length":35.0,"weight":484},{"quarter":"IV","length":35.4,"weight":680},{"quarter":"IV","length":35.4,"weight":504},{"quarter":"IV","length":35.8,"weight":707},{"quarter":"IV","length":35.8,"weight":524}
]
},
"concat": [
{
 "width": 432, "height": 196,
 "layer": [
  {"data": {"name": "fish"}, "transform": [{"filter": "datum.quarter == 'II'"}],
   "mark": {"type": "point", "shape": "circle", "filled": false, "size": 150, "strokeWidth": 1.3, "color": "#4a7ebb", "opacity": 0.9},
   "encoding": {
    "x": {"field": "length", "type": "quantitative", "scale": {"domain": [0, 50], "nice": false}, "axis": {"title": "Fork length (cm)", "values": [0, 10, 20, 30, 40, 50], "tickCount": 10}},
    "y": {"field": "weight", "type": "quantitative", "scale": {"domain": [0, 800], "nice": false}, "axis": {"title": "Body weight (g)", "values": [0, 200, 400, 600, 800], "titlePadding": 20, "labelOverlap": false, "tickCount": 10}}}},
  {"data": {"name": "fish"}, "transform": [{"filter": "datum.quarter == 'II'"}, {"regression": "weight", "on": "length", "method": "pow"}],
   "mark": {"type": "line", "color": "#000000", "strokeWidth": 1},
   "encoding": {"x": {"field": "length", "type": "quantitative", "axis": {"title": "Fork length (cm)", "values": [0, 10, 20, 30, 40, 50], "tickCount": 10}}, "y": {"field": "weight", "type": "quantitative", "axis": {"title": "Body weight (g)", "values": [0, 200, 400, 600, 800], "titlePadding": 20, "labelOverlap": false, "tickCount": 10}}}},
  {"data": {"name": "notes"}, "transform": [{"filter": "datum.panel == 'II'"}],
   "mark": {"type": "text", "align": "left", "baseline": "alphabetic", "fontSize": 28, "font": "Lato", "color": "#000000"},
   "encoding": {"x": {"datum": 5.3}, "y": {"datum": 670}, "text": {"field": "title"}}},
  {"data": {"name": "notes"}, "transform": [{"filter": "datum.panel == 'II'"}],
   "mark": {"type": "text", "align": "right", "baseline": "alphabetic", "fontSize": 17.5, "fontWeight": "bold", "font": "Lato", "color": "#000000"},
   "encoding": {"x": {"datum": 17.2}, "y": {"datum": 469}, "text": {"field": "eq"}}},
  {"data": {"name": "notes"}, "transform": [{"filter": "datum.panel == 'II'"}],
   "mark": {"type": "text", "align": "left", "baseline": "alphabetic", "fontSize": 12.5, "font": "Lato", "color": "#000000"},
   "encoding": {"x": {"datum": 17.2}, "y": {"datum": 498}, "text": {"field": "exp"}}},
  {"data": {"name": "notes"}, "transform": [{"filter": "datum.panel == 'II'"}],
   "mark": {"type": "text", "align": "center", "baseline": "alphabetic", "fontSize": 17.5, "fontWeight": "bold", "font": "Lato", "color": "#000000"},
   "encoding": {"x": {"datum": 13.9}, "y": {"datum": 362}, "text": {"field": "r2"}}}
 ]
},
{
 "width": 430, "height": 196,
 "layer": [
  {"data": {"name": "fish"}, "transform": [{"filter": "datum.quarter == 'III'"}],
   "mark": {"type": "point", "shape": "circle", "filled": false, "size": 150, "strokeWidth": 1.3, "color": "#4a7ebb", "opacity": 0.9},
   "encoding": {
    "x": {"field": "length", "type": "quantitative", "scale": {"domain": [0, 50], "nice": false}, "axis": {"title": "Fork length (cm)", "values": [0, 10, 20, 30, 40, 50], "tickCount": 10}},
    "y": {"field": "weight", "type": "quantitative", "scale": {"domain": [0, 1500], "nice": false}, "axis": {"title": "Body weight (g)", "values": [0, 500, 1000, 1500], "titlePadding": 13, "labelOverlap": false, "tickCount": 10}}}},
  {"data": {"name": "fish"}, "transform": [{"filter": "datum.quarter == 'III'"}, {"regression": "weight", "on": "length", "method": "pow"}],
   "mark": {"type": "line", "color": "#000000", "strokeWidth": 1},
   "encoding": {"x": {"field": "length", "type": "quantitative", "axis": {"title": "Fork length (cm)", "values": [0, 10, 20, 30, 40, 50], "tickCount": 10}}, "y": {"field": "weight", "type": "quantitative", "axis": {"title": "Body weight (g)", "values": [0, 500, 1000, 1500], "titlePadding": 13, "labelOverlap": false, "tickCount": 10}}}},
  {"data": {"name": "notes"}, "transform": [{"filter": "datum.panel == 'III'"}],
   "mark": {"type": "text", "align": "left", "baseline": "alphabetic", "fontSize": 28, "font": "Lato", "color": "#000000"},
   "encoding": {"x": {"datum": 5.2}, "y": {"datum": 1245}, "text": {"field": "title"}}},
  {"data": {"name": "notes"}, "transform": [{"filter": "datum.panel == 'III'"}],
   "mark": {"type": "text", "align": "right", "baseline": "alphabetic", "fontSize": 17.5, "fontWeight": "bold", "font": "Lato", "color": "#000000"},
   "encoding": {"x": {"datum": 19.7}, "y": {"datum": 880}, "text": {"field": "eq"}}},
  {"data": {"name": "notes"}, "transform": [{"filter": "datum.panel == 'III'"}],
   "mark": {"type": "text", "align": "left", "baseline": "alphabetic", "fontSize": 12.5, "font": "Lato", "color": "#000000"},
   "encoding": {"x": {"datum": 19.7}, "y": {"datum": 934}, "text": {"field": "exp"}}},
  {"data": {"name": "notes"}, "transform": [{"filter": "datum.panel == 'III'"}],
   "mark": {"type": "text", "align": "center", "baseline": "alphabetic", "fontSize": 17.5, "fontWeight": "bold", "font": "Lato", "color": "#000000"},
   "encoding": {"x": {"datum": 17.8}, "y": {"datum": 675}, "text": {"field": "r2"}}}
 ]
},
{
 "width": 432, "height": 196,
 "layer": [
  {"data": {"name": "fish"}, "transform": [{"filter": "datum.quarter == 'IV'"}],
   "mark": {"type": "point", "shape": "circle", "filled": false, "size": 150, "strokeWidth": 1.3, "color": "#4a7ebb", "opacity": 0.9},
   "encoding": {
    "x": {"field": "length", "type": "quantitative", "scale": {"domain": [0, 50], "nice": false}, "axis": {"title": "Fork length (cm)", "values": [0, 10, 20, 30, 40, 50], "tickCount": 10}},
    "y": {"field": "weight", "type": "quantitative", "scale": {"domain": [0, 1200], "nice": false}, "axis": {"title": "Body weight (g)", "values": [0, 200, 400, 600, 800, 1000, 1200], "titlePadding": 13, "labelOverlap": false, "tickCount": 10}}}},
  {"data": {"name": "fish"}, "transform": [{"filter": "datum.quarter == 'IV'"}, {"regression": "weight", "on": "length", "method": "pow"}],
   "mark": {"type": "line", "color": "#000000", "strokeWidth": 1},
   "encoding": {"x": {"field": "length", "type": "quantitative", "axis": {"title": "Fork length (cm)", "values": [0, 10, 20, 30, 40, 50], "tickCount": 10}}, "y": {"field": "weight", "type": "quantitative", "axis": {"title": "Body weight (g)", "values": [0, 200, 400, 600, 800, 1000, 1200], "titlePadding": 13, "labelOverlap": false, "tickCount": 10}}}},
  {"data": {"name": "notes"}, "transform": [{"filter": "datum.panel == 'IV'"}],
   "mark": {"type": "text", "align": "left", "baseline": "alphabetic", "fontSize": 28, "font": "Lato", "color": "#000000"},
   "encoding": {"x": {"datum": 5.3}, "y": {"datum": 999}, "text": {"field": "title"}}},
  {"data": {"name": "notes"}, "transform": [{"filter": "datum.panel == 'IV'"}],
   "mark": {"type": "text", "align": "right", "baseline": "alphabetic", "fontSize": 17.5, "fontWeight": "bold", "font": "Lato", "color": "#000000"},
   "encoding": {"x": {"datum": 20.6}, "y": {"datum": 676}, "text": {"field": "eq"}}},
  {"data": {"name": "notes"}, "transform": [{"filter": "datum.panel == 'IV'"}],
   "mark": {"type": "text", "align": "left", "baseline": "alphabetic", "fontSize": 12.5, "font": "Lato", "color": "#000000"},
   "encoding": {"x": {"datum": 20.6}, "y": {"datum": 719}, "text": {"field": "exp"}}},
  {"data": {"name": "notes"}, "transform": [{"filter": "datum.panel == 'IV'"}],
   "mark": {"type": "text", "align": "center", "baseline": "alphabetic", "fontSize": 17.5, "fontWeight": "bold", "font": "Lato", "color": "#000000"},
   "encoding": {"x": {"datum": 17.8}, "y": {"datum": 522}, "text": {"field": "r2"}}}
 ]
},
{
 "width": 430, "height": 196,
 "layer": [
  {"data": {"name": "fish"},
   "mark": {"type": "point", "shape": "circle", "filled": false, "size": 150, "strokeWidth": 1.3, "color": "#4a7ebb", "opacity": 0.9},
   "encoding": {
    "x": {"field": "length", "type": "quantitative", "scale": {"domain": [0, 50], "nice": false}, "axis": {"title": "Fork length (cm)", "values": [0, 10, 20, 30, 40, 50], "tickCount": 10}},
    "y": {"field": "weight", "type": "quantitative", "scale": {"domain": [0, 1500], "nice": false}, "axis": {"title": "Body weight (g)", "values": [0, 500, 1000, 1500], "titlePadding": 13, "labelOverlap": false, "tickCount": 10}}}},
  {"data": {"name": "fish"}, "transform": [{"regression": "weight", "on": "length", "method": "pow"}],
   "mark": {"type": "line", "color": "#000000", "strokeWidth": 1},
   "encoding": {"x": {"field": "length", "type": "quantitative", "axis": {"title": "Fork length (cm)", "values": [0, 10, 20, 30, 40, 50], "tickCount": 10}}, "y": {"field": "weight", "type": "quantitative", "axis": {"title": "Body weight (g)", "values": [0, 500, 1000, 1500], "titlePadding": 13, "labelOverlap": false, "tickCount": 10}}}},
  {"data": {"name": "notes"}, "transform": [{"filter": "datum.panel == 'all'"}],
   "mark": {"type": "text", "align": "left", "baseline": "alphabetic", "fontSize": 28, "font": "Lato", "color": "#000000"},
   "encoding": {"x": {"datum": 4.65}, "y": {"datum": 1255}, "text": {"field": "title"}}},
  {"data": {"name": "notes"}, "transform": [{"filter": "datum.panel == 'all'"}],
   "mark": {"type": "text", "align": "right", "baseline": "alphabetic", "fontSize": 17.5, "fontWeight": "bold", "font": "Lato", "color": "#000000"},
   "encoding": {"x": {"datum": 18.9}, "y": {"datum": 849}, "text": {"field": "eq"}}},
  {"data": {"name": "notes"}, "transform": [{"filter": "datum.panel == 'all'"}],
   "mark": {"type": "text", "align": "left", "baseline": "alphabetic", "fontSize": 12.5, "font": "Lato", "color": "#000000"},
   "encoding": {"x": {"datum": 18.9}, "y": {"datum": 903}, "text": {"field": "exp"}}},
  {"data": {"name": "notes"}, "transform": [{"filter": "datum.panel == 'all'"}],
   "mark": {"type": "text", "align": "center", "baseline": "alphabetic", "fontSize": 17.5, "fontWeight": "bold", "font": "Lato", "color": "#000000"},
   "encoding": {"x": {"datum": 16.0}, "y": {"datum": 656}, "text": {"field": "r2"}}}
 ]
}
]
}
